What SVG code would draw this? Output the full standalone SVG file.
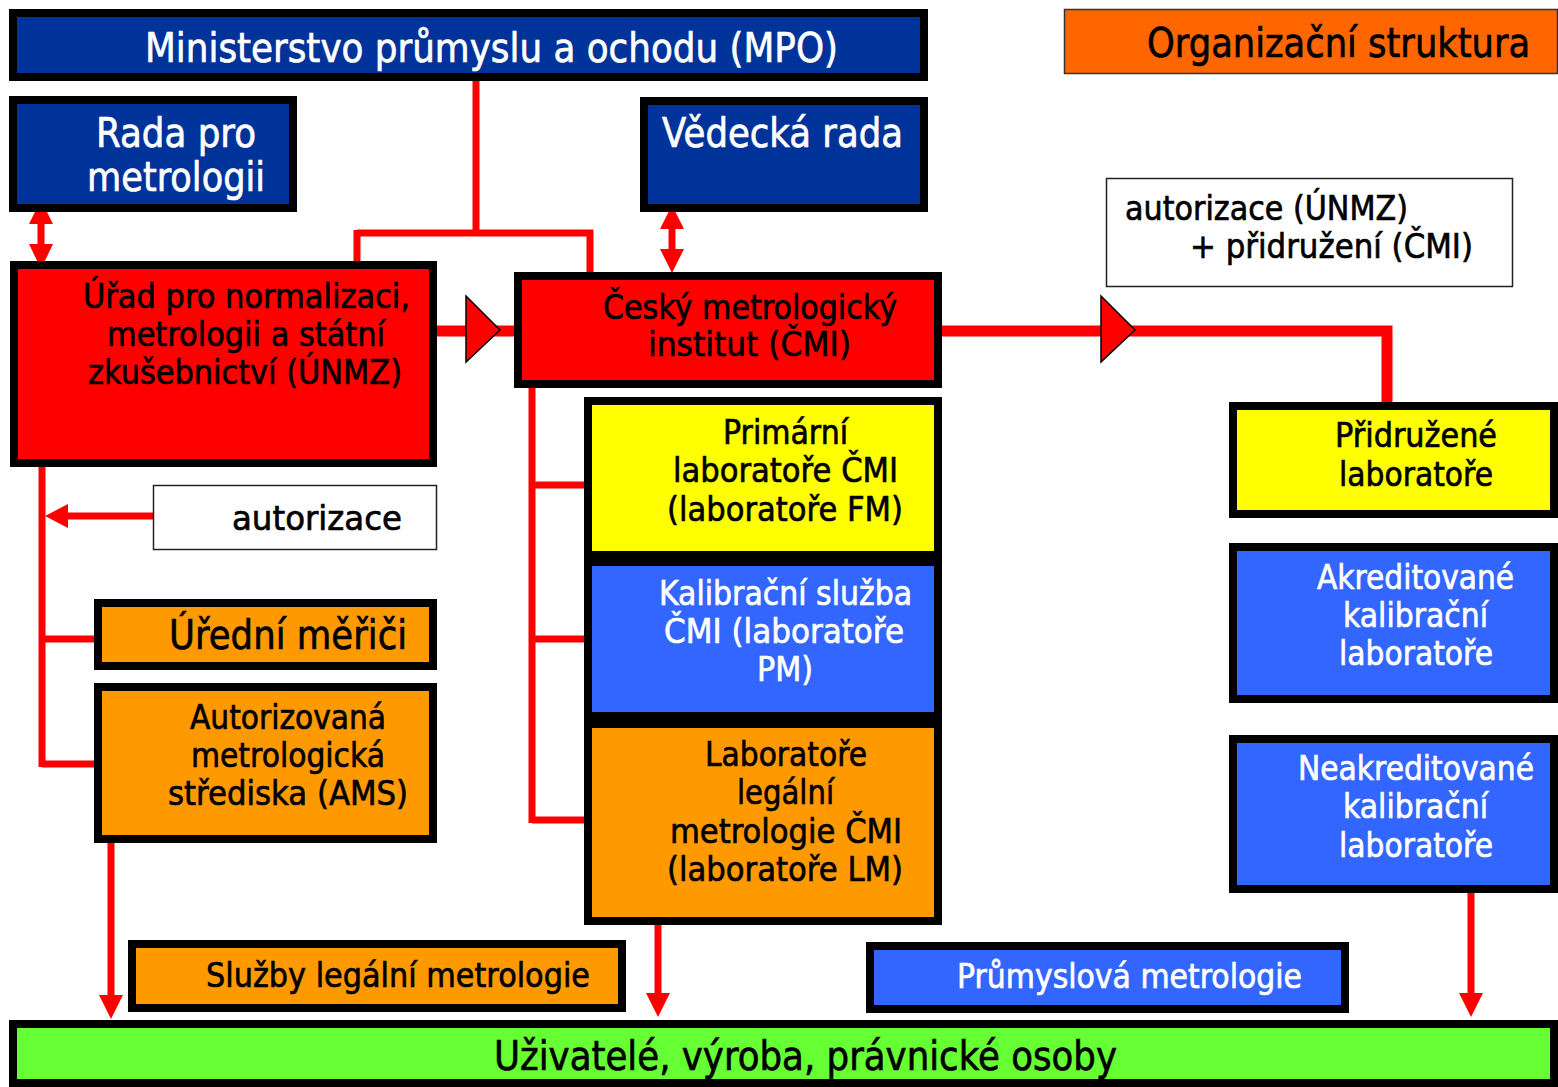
<svg xmlns="http://www.w3.org/2000/svg" width="1558" height="1087" viewBox="0 0 1558 1087">
<style>
.box{stroke:#000;stroke-width:8}
.thin{fill:#fff;stroke:#222;stroke-width:1.5}
.dk{fill:#003399}.rd{fill:#ff0000}.yl{fill:#ffff00}.bl{fill:#3366ff}.or{fill:#ff9900}.gr{fill:#66ff33}
text{font-family:"DejaVu Sans","Liberation Sans",sans-serif;font-size:34px;fill:#000;stroke:#000;stroke-width:0.7}
text.w{fill:#fff;stroke:#fff}
.big{font-size:40px}
.ln{fill:none;stroke:#ff0000;stroke-width:7}
.th{fill:none;stroke:#ff0000;stroke-width:11}
.ah{fill:#ff0000}
.tri{fill:#ff0000;stroke:#000;stroke-width:1.5;stroke-linejoin:miter}
</style>

<g id="connectors">
  <path class="ln" d="M476 81 V233 M357 233 H593 M357 230 V262 M590 230 V272"/>
  <path class="ln" stroke-width="8" d="M41 222 V246"/>
  <polygon class="ah" points="41,200 29,224 53,224"/>
  <polygon class="ah" points="29,244 53,244 41,269"/>
  <path class="ln" stroke-width="8" d="M672 227 V251"/>
  <polygon class="ah" points="672,205 660,229 684,229"/>
  <polygon class="ah" points="660,249 684,249 672,273"/>
  <path class="th" d="M437 331 H514"/>
  <polygon class="tri" points="466,296 500,330 466,362"/>
  <path class="th" d="M942 331 H1387 V402"/>
  <polygon class="tri" points="1101,296 1135,330 1101,362"/>
  <path class="ln" d="M42 467 V767 M42 639 H94 M42 764 H94"/>
  <path class="ln" d="M64 516 H153"/>
  <polygon class="ah" points="45,516 68,504 68,528"/>
  <path class="ln" d="M111 843 V996"/>
  <polygon class="ah" points="99,995 123,995 111,1019"/>
  <path class="ln" d="M532 388 V823 M532 485 H584 M532 639 H584 M532 820 H584"/>
  <path class="ln" d="M658 925 V994"/>
  <polygon class="ah" points="646,993 670,993 658,1017"/>
  <path class="ln" d="M1471 893 V994"/>
  <polygon class="ah" points="1459,993 1483,993 1471,1017"/>
</g>

<g id="mpo">
  <rect class="box dk" x="13" y="13" width="911" height="64"/>
  <text class="w big" x="145" y="62" textLength="693" lengthAdjust="spacingAndGlyphs">Ministerstvo průmyslu a ochodu (MPO)</text>
</g>
<g id="title">
  <rect x="1064.5" y="9.5" width="493" height="64" fill="#ff6600" stroke="#333" stroke-width="1.5"/>
  <text class="big" transform="translate(1147 57) scale(0.8 1)" x="0" y="0" textLength="479" lengthAdjust="spacingAndGlyphs">Organizační struktura</text>
</g>
<g id="rada">
  <rect class="box dk" x="13" y="100" width="280" height="108"/>
  <text class="w big" x="96" y="147" textLength="160" lengthAdjust="spacingAndGlyphs">Rada pro</text>
  <text class="w big" x="87" y="191" textLength="178" lengthAdjust="spacingAndGlyphs">metrologii</text>
</g>
<g id="vedecka">
  <rect class="box dk" x="644" y="101" width="280" height="107"/>
  <text class="w big" x="662" y="147" textLength="241" lengthAdjust="spacingAndGlyphs">Vědecká rada</text>
</g>
<g id="autor-unmz-cmi">
  <rect class="thin" x="1106.5" y="178.5" width="406" height="108"/>
  <text x="1125" y="220" textLength="283" lengthAdjust="spacingAndGlyphs">autorizace (ÚNMZ)</text>
  <text x="1190" y="258" textLength="283" lengthAdjust="spacingAndGlyphs">+ přidružení (ČMI)</text>
</g>
<g id="unmz">
  <rect class="box rd" x="14" y="265" width="419" height="198"/>
  <text x="83" y="308" textLength="327" lengthAdjust="spacingAndGlyphs">Úřad pro normalizaci,</text>
  <text x="107" y="346" textLength="278" lengthAdjust="spacingAndGlyphs">metrologii a státní</text>
  <text x="88" y="384" textLength="314" lengthAdjust="spacingAndGlyphs">zkušebnictví (ÚNMZ)</text>
</g>
<g id="cmi">
  <rect class="box rd" x="518" y="276" width="420" height="108"/>
  <text x="603" y="319" textLength="294" lengthAdjust="spacingAndGlyphs">Český metrologický</text>
  <text x="648" y="356" textLength="203" lengthAdjust="spacingAndGlyphs">institut (ČMI)</text>
</g>
<g id="cmi-labs">
  <rect x="584" y="397" width="358" height="528" fill="#000"/>
  <g id="primarni">
    <rect class="yl" x="592" y="405" width="342" height="146"/>
    <text x="723" y="444" textLength="125" lengthAdjust="spacingAndGlyphs">Primární</text>
    <text x="673" y="482" textLength="225" lengthAdjust="spacingAndGlyphs">laboratoře ČMI</text>
    <text x="667" y="521" textLength="236" lengthAdjust="spacingAndGlyphs">(laboratoře FM)</text>
  </g>
  <g id="kalibracni">
    <rect class="bl" x="592" y="566" width="342" height="146"/>
    <text class="w" x="659" y="605" textLength="253" lengthAdjust="spacingAndGlyphs">Kalibrační služba</text>
    <text class="w" x="664" y="643" textLength="240" lengthAdjust="spacingAndGlyphs">ČMI (laboratoře</text>
    <text class="w" x="757" y="681" textLength="56" lengthAdjust="spacingAndGlyphs">PM)</text>
  </g>
  <g id="legalni">
    <rect class="or" x="592" y="728" width="342" height="189"/>
    <text x="705" y="766" textLength="162" lengthAdjust="spacingAndGlyphs">Laboratoře</text>
    <text x="737" y="804" textLength="97" lengthAdjust="spacingAndGlyphs">legální</text>
    <text x="670" y="843" textLength="232" lengthAdjust="spacingAndGlyphs">metrologie ČMI</text>
    <text x="667" y="881" textLength="236" lengthAdjust="spacingAndGlyphs">(laboratoře LM)</text>
  </g>
</g>
<g id="autorizace">
  <rect class="thin" x="153.5" y="485.5" width="283" height="64"/>
  <text x="232" y="530" textLength="170" lengthAdjust="spacingAndGlyphs">autorizace</text>
</g>
<g id="uredni">
  <rect class="box or" x="98" y="603" width="335" height="63"/>
  <text class="big" x="169" y="649" textLength="238" lengthAdjust="spacingAndGlyphs">Úřední měřiči</text>
</g>
<g id="ams">
  <rect class="box or" x="98" y="687" width="335" height="152"/>
  <text x="190" y="729" textLength="196" lengthAdjust="spacingAndGlyphs">Autorizovaná</text>
  <text x="191" y="767" textLength="194" lengthAdjust="spacingAndGlyphs">metrologická</text>
  <text x="168" y="805" textLength="240" lengthAdjust="spacingAndGlyphs">střediska (AMS)</text>
</g>
<g id="pridruzene">
  <rect class="box yl" x="1233" y="406" width="321" height="108"/>
  <text x="1335" y="447" textLength="162" lengthAdjust="spacingAndGlyphs">Přidružené</text>
  <text x="1339" y="486" textLength="154" lengthAdjust="spacingAndGlyphs">laboratoře</text>
</g>
<g id="akreditovane">
  <rect class="box bl" x="1233" y="547" width="321" height="152"/>
  <text class="w" x="1317" y="589" textLength="197" lengthAdjust="spacingAndGlyphs">Akreditované</text>
  <text class="w" x="1343" y="627" textLength="145" lengthAdjust="spacingAndGlyphs">kalibrační</text>
  <text class="w" x="1339" y="665" textLength="154" lengthAdjust="spacingAndGlyphs">laboratoře</text>
</g>
<g id="neakreditovane">
  <rect class="box bl" x="1233" y="739" width="321" height="150"/>
  <text class="w" transform="translate(1298 780) scale(0.8 1)" x="0" y="0" textLength="295" lengthAdjust="spacingAndGlyphs">Neakreditované</text>
  <text class="w" x="1343" y="818" textLength="145" lengthAdjust="spacingAndGlyphs">kalibrační</text>
  <text class="w" x="1339" y="857" textLength="154" lengthAdjust="spacingAndGlyphs">laboratoře</text>
</g>
<g id="sluzby">
  <rect class="box or" x="132" y="944" width="490" height="64"/>
  <text x="206" y="987" textLength="384" lengthAdjust="spacingAndGlyphs">Služby legální metrologie</text>
</g>
<g id="prumyslova">
  <rect class="box bl" x="870" y="946" width="475" height="63"/>
  <text class="w" x="957" y="988" textLength="345" lengthAdjust="spacingAndGlyphs">Průmyslová metrologie</text>
</g>
<g id="uzivatele">
  <rect class="box gr" x="13" y="1024" width="1541" height="59"/>
  <text class="big" x="494" y="1070" textLength="623" lengthAdjust="spacingAndGlyphs">Uživatelé, výroba, právnické osoby</text>
</g>
</svg>
